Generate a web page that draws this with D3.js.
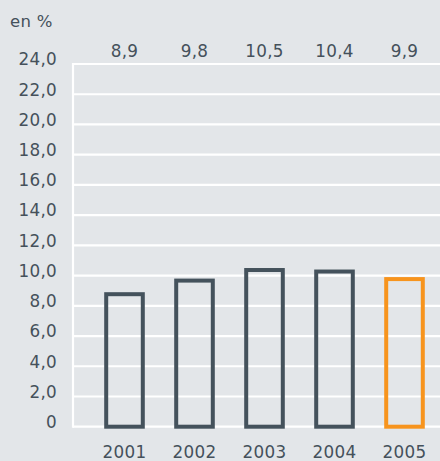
<!DOCTYPE html>
<html>
<head>
<meta charset="utf-8">
<script src="https://cdn.jsdelivr.net/npm/d3@7"></script>
<style>
  html, body { margin: 0; padding: 0; background: #e3e6e9; }
  svg { display: block; }
  text { font-family: "DejaVu Sans", sans-serif; fill: #45515b; letter-spacing: 0.3px; }
</style>
</head>
<body>
<svg id="chart" width="440" height="461"></svg>
<script>
const years = ["2001", "2002", "2003", "2004", "2005"];
const values = [8.9, 9.8, 10.5, 10.4, 9.9];
const valueLabels = ["8,9", "9,8", "10,5", "10,4", "9,9"];
const yTicks = [0, 2, 4, 6, 8, 10, 12, 14, 16, 18, 20, 22, 24];
const yTickLabels = ["0", "2,0", "4,0", "6,0", "8,0", "10,0", "12,0", "14,0", "16,0", "18,0", "20,0", "22,0", "24,0"];
const barColors = ["#44525c", "#44525c", "#44525c", "#44525c", "#f7941d"];

const svg = d3.select("#chart");
const W = 440;
const plotLeft = 73;
const fontSize = "16.8px";

const x = d3.scaleBand().domain(years).range([89.5, 439.5]).paddingInner(0.42).paddingOuter(0.21);
const y = d3.scaleLinear().domain([0, 24]).range([426.7, 64]);

// horizontal grid
svg.append("g").selectAll("line").data(yTicks).join("line")
  .attr("x1", plotLeft).attr("x2", W)
  .attr("y1", d => y(d)).attr("y2", d => y(d))
  .attr("stroke", "#ffffff").attr("stroke-width", 2.2);

// left axis line
svg.append("line")
  .attr("x1", plotLeft).attr("x2", plotLeft)
  .attr("y1", y(24) - 1).attr("y2", y(0) + 1)
  .attr("stroke", "#ffffff").attr("stroke-width", 2.2);

// y tick labels, baseline sitting on the gridline
const yAxis = d3.axisLeft(y).tickValues(yTicks)
  .tickFormat((d, i) => yTickLabels[i]).tickSize(0).tickPadding(16);
const gy = svg.append("g").attr("transform", `translate(${plotLeft},0)`).call(yAxis);
gy.select(".domain").remove();
gy.selectAll("text").style("font-family", '"DejaVu Sans", sans-serif')
  .style("font-size", fontSize).attr("fill", "#45515b").attr("dy", "0.05em");

// unit label
svg.append("text").attr("x", 10).attr("y", 27).style("font-size", "16.5px").text("en %");

// outlined bars
const sw = 4;
svg.append("g").selectAll("rect").data(values).join("rect")
  .attr("x", (d, i) => x(years[i]) + sw / 2)
  .attr("width", x.bandwidth() - sw)
  .attr("y", d => y(d) + sw / 2)
  .attr("height", d => y(0) - y(d) - sw / 2)
  .attr("fill", "none")
  .attr("stroke", (d, i) => barColors[i])
  .attr("stroke-width", sw);

// value labels above the plot
svg.append("g").selectAll("text").data(valueLabels).join("text")
  .attr("x", (d, i) => x(years[i]) + x.bandwidth() / 2)
  .attr("y", 57)
  .attr("text-anchor", "middle")
  .style("font-size", fontSize)
  .text(d => d);

// year labels
const xAxis = d3.axisBottom(x).tickSize(0).tickPadding(0);
const gx = svg.append("g").attr("transform", `translate(0,${y(0)})`).call(xAxis);
gx.select(".domain").remove();
gx.selectAll("text").style("font-family", '"DejaVu Sans", sans-serif')
  .style("font-size", fontSize).attr("fill", "#45515b")
  .attr("dy", null).attr("y", 31.5);
</script>
</body>
</html>
